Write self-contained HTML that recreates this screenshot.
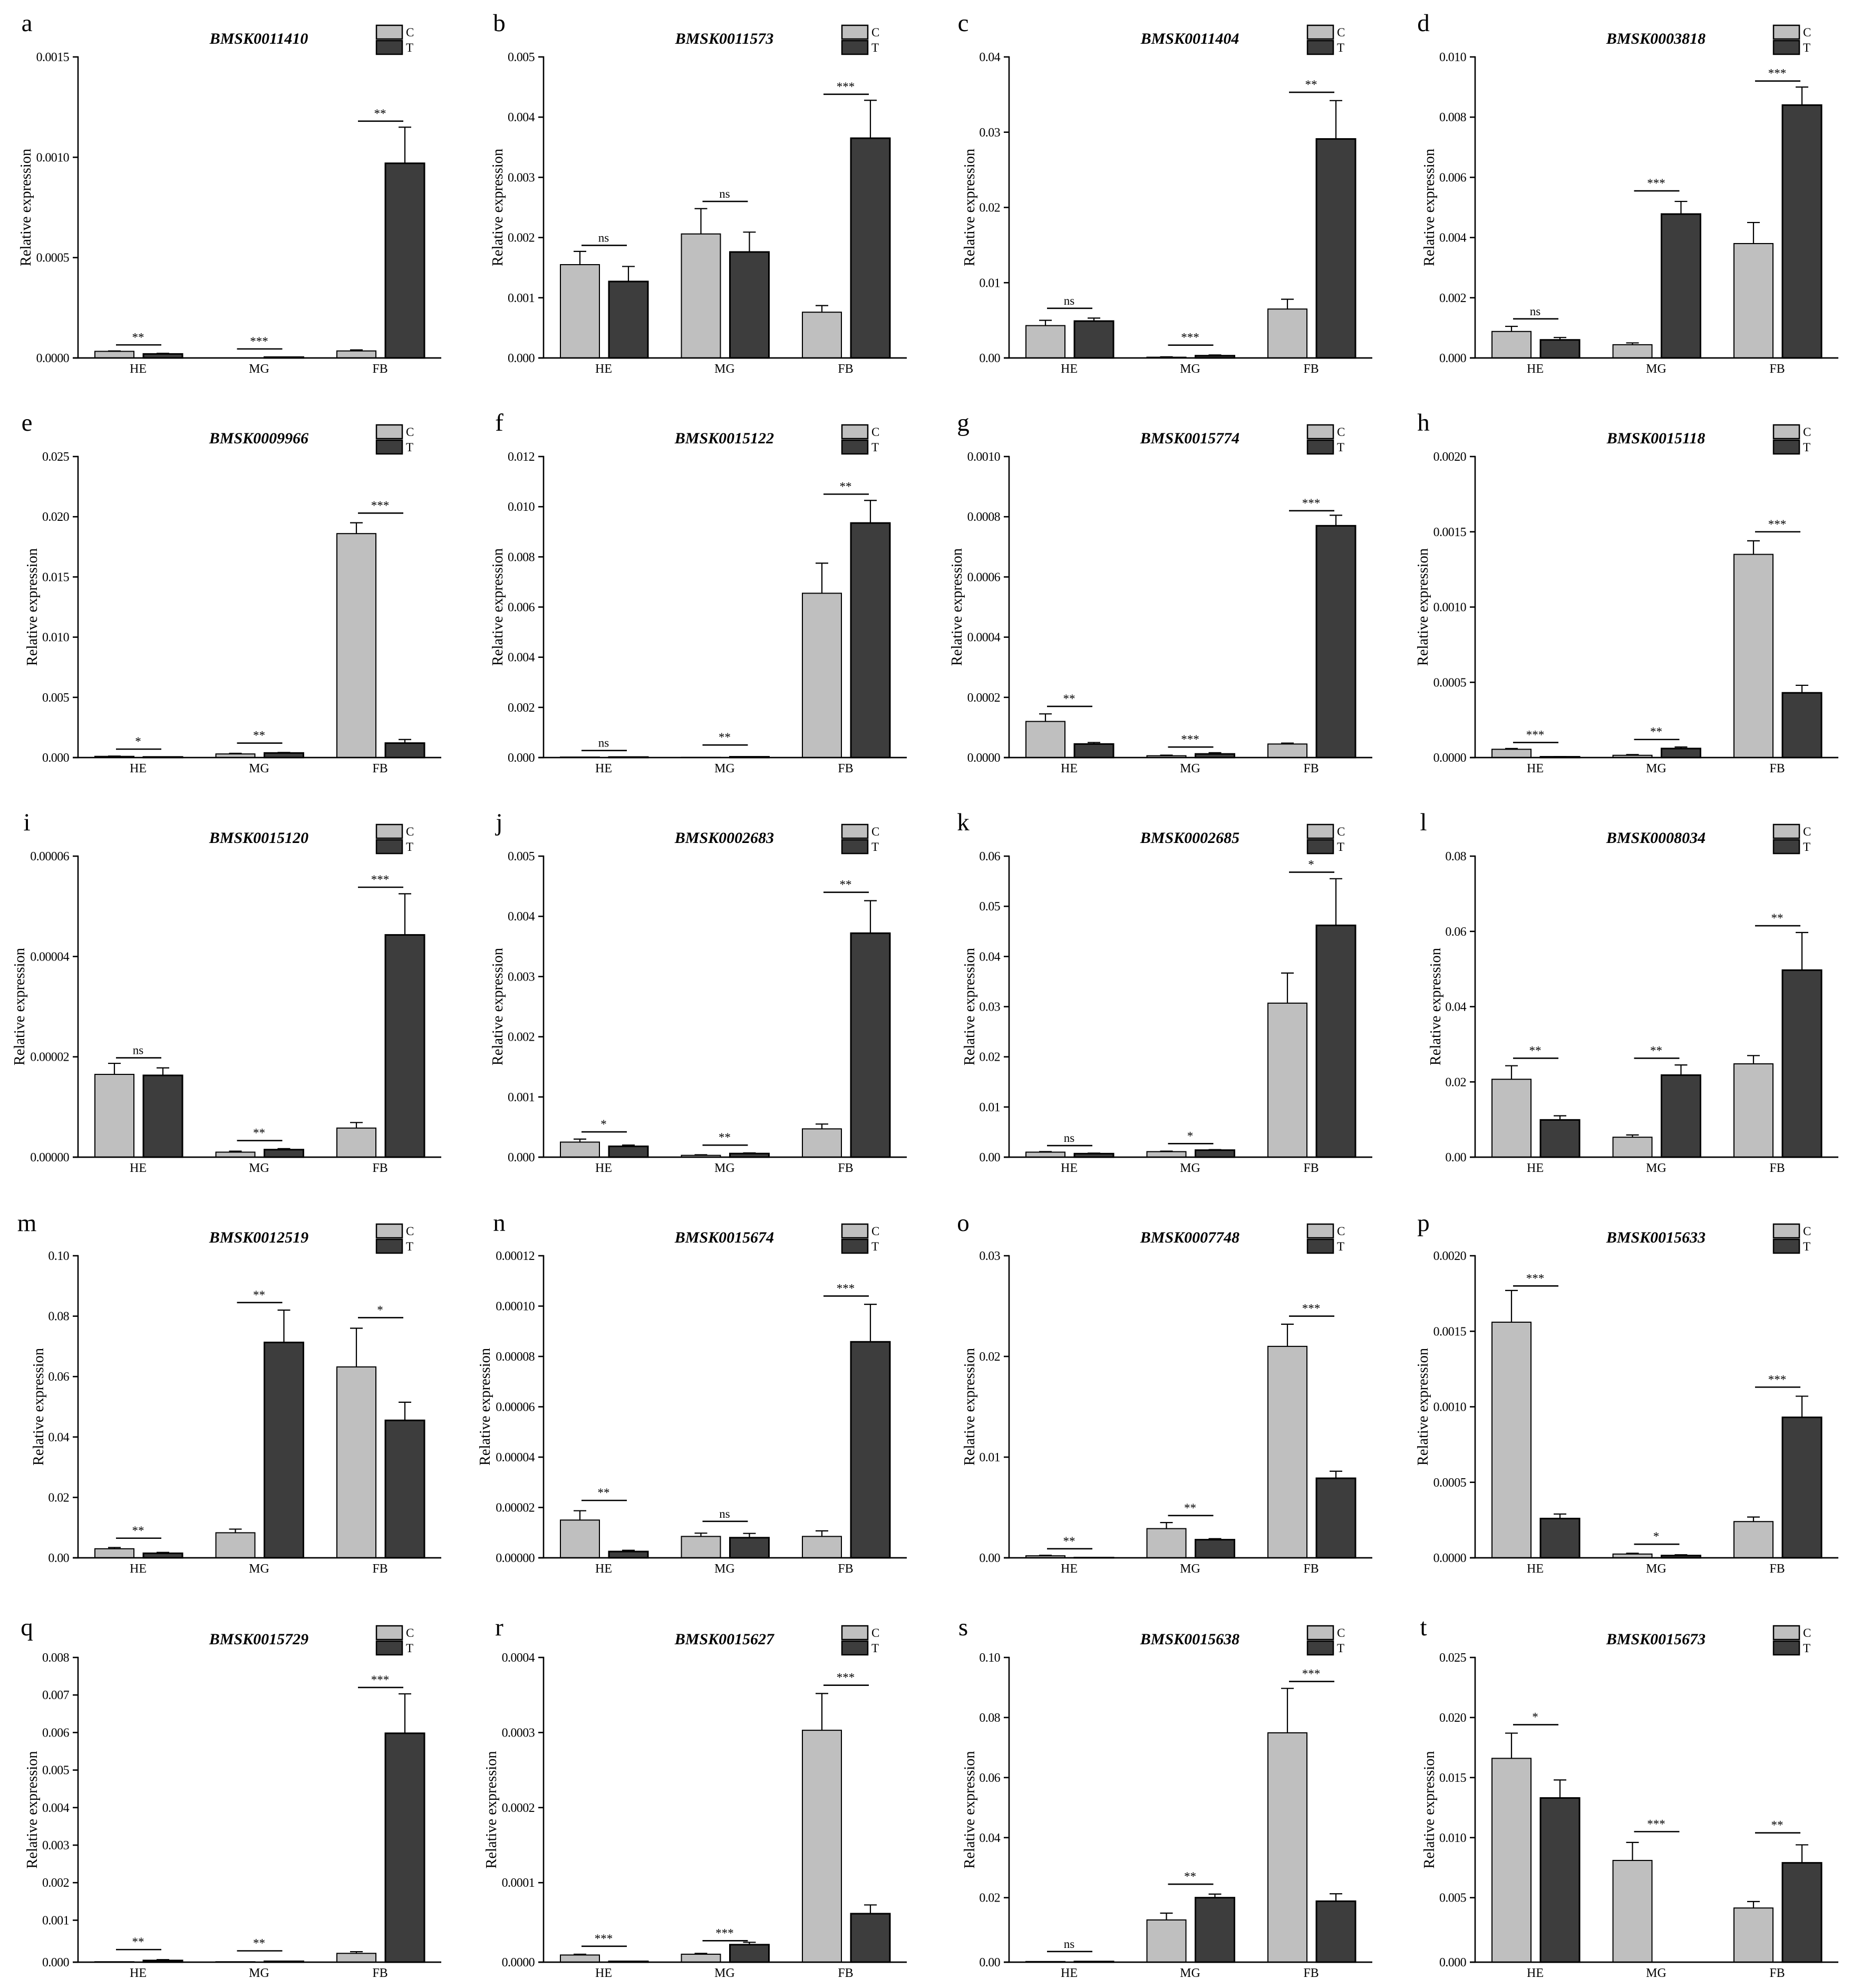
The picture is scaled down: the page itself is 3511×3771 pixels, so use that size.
<!DOCTYPE html>
<html>
<head>
<meta charset="utf-8">
<title>Relative expression of BMSK genes</title>
<style>
html,body{margin:0;padding:0;background:#fff;}
svg{display:block;position:absolute;left:0;top:0;}
text{font-family:"Liberation Serif",serif;fill:#000;}
</style>
</head>
<body>
<svg id="figure" xmlns="http://www.w3.org/2000/svg" width="3511" height="3771" viewBox="0 0 3511 3771"></svg>
<script>
const panelLetters = ["a","b","c","d","e","f","g","h","i","j","k","l","m","n","o","p","q","r","s","t"];
const geneNames = ["BMSK0011410","BMSK0011573","BMSK0011404","BMSK0003818","BMSK0009966","BMSK0015122","BMSK0015774","BMSK0015118","BMSK0015120","BMSK0002683","BMSK0002685","BMSK0008034","BMSK0012519","BMSK0015674","BMSK0007748","BMSK0015633","BMSK0015729","BMSK0015627","BMSK0015638","BMSK0015673"];
const categories = ["HE","MG","FB"];
const tickLabels = [
["0.0000","0.0005","0.0010","0.0015"],
["0.000","0.001","0.002","0.003","0.004","0.005"],
["0.00","0.01","0.02","0.03","0.04"],
["0.000","0.002","0.004","0.006","0.008","0.010"],
["0.000","0.005","0.010","0.015","0.020","0.025"],
["0.000","0.002","0.004","0.006","0.008","0.010","0.012"],
["0.0000","0.0002","0.0004","0.0006","0.0008","0.0010"],
["0.0000","0.0005","0.0010","0.0015","0.0020"],
["0.00000","0.00002","0.00004","0.00006"],
["0.000","0.001","0.002","0.003","0.004","0.005"],
["0.00","0.01","0.02","0.03","0.04","0.05","0.06"],
["0.00","0.02","0.04","0.06","0.08"],
["0.00","0.02","0.04","0.06","0.08","0.10"],
["0.00000","0.00002","0.00004","0.00006","0.00008","0.00010","0.00012"],
["0.00","0.01","0.02","0.03"],
["0.0000","0.0005","0.0010","0.0015","0.0020"],
["0.000","0.001","0.002","0.003","0.004","0.005","0.006","0.007","0.008"],
["0.0000","0.0001","0.0002","0.0003","0.0004"],
["0.00","0.02","0.04","0.06","0.08","0.10"],
["0.000","0.005","0.010","0.015","0.020","0.025"]
];
const controlMeans = [
[0.000033,0,0.000035],[0.00155,0.00206,0.00076],[0.0043,0.0001,0.0065],[0.00088,0.00044,0.0038],
[0.0001,0.0003,0.0186],[0.00002,0.00001,0.00655],[0.00012,0.000006,0.000045],[0.000055,0.000015,0.00135],
[0.0000165,0.000001,0.0000058],[0.00025,0.00003,0.00047],[0.001,0.0011,0.0307],[0.0207,0.0053,0.0248],
[0.003,0.0083,0.0632],[0.000015,0.0000085,0.0000085],[0.0002,0.0029,0.021],[0.00156,0.000025,0.00024],
[0.00001,0.00001,0.00021],[0.000009,0.00001,0.000303],[0.0002,0.0131,0.0749],[0.0166,0.0081,0.0042]
];
const treatedMeans = [
[0.00002,0.000004,0.00097],[0.00127,0.00176,0.00365],[0.0049,0.0003,0.0291],[0.0006,0.00478,0.0084],
[0.00005,0.00038,0.0012],[0.00002,0.00003,0.00935],[0.000045,0.000012,0.00077],[0.000005,0.00006,0.00043],
[0.0000163,0.0000015,0.0000443],[0.00018,0.00006,0.00372],[0.0007,0.0014,0.0462],[0.0099,0.0218,0.0497],
[0.0015,0.0713,0.0455],[0.0000025,0.000008,0.0000858],[0.00002,0.0018,0.0079],[0.00026,0.000015,0.00093],
[0.00004,0.00002,0.00598],[0.000001,0.000022,0.000061],[0.0002,0.02,0.0189],[0.0133,0,0.0079]
];
const controlErrorTops = [
[0.000035,0,0.00004],[0.00177,0.00248,0.00087],[0.005,0.00015,0.0078],[0.00105,0.0005,0.0045],
[0.00012,0.00035,0.0195],[0.00002,0.00001,0.00775],[0.000145,0.000008,0.000048],[0.00006,0.00002,0.00144],
[0.0000187,0.0000012,0.0000069],[0.0003,0.00004,0.00055],[0.0011,0.0012,0.0367],[0.0243,0.0059,0.027],
[0.0034,0.0095,0.076],[0.0000187,0.0000098,0.0000107],[0.00025,0.0035,0.0232],[0.00177,0.00003,0.00027],
[0.00001,0.00001,0.00025],[0.00001,0.000011,0.000352],[0.0002,0.0152,0.0897],[0.0187,0.0096,0.0047]
];
const treatedErrorTops = [
[0.000023,0.000005,0.00115],[0.00152,0.00209,0.00428],[0.0053,0.0004,0.0342],[0.00068,0.0052,0.009],
[0.00005,0.00042,0.0015],[0.00002,0.00003,0.01025],[0.00005,0.000016,0.000805],[0.000006,0.00007,0.00048],
[0.0000178,0.0000017,0.0000525],[0.0002,0.00007,0.00426],[0.0008,0.0015,0.0555],[0.011,0.0245,0.0597],
[0.0018,0.082,0.0515],[0.000003,0.0000097,0.0001007],[0.00002,0.0019,0.0086],[0.00029,0.00002,0.00107],
[0.00006,0.00002,0.00703],[0.000001,0.000025,0.000072],[0.0002,0.0212,0.0213],[0.0148,0,0.0094]
];
const significanceLabels = [
["**","***","**"],["ns","ns","***"],["ns","***","**"],["ns","***","***"],
["*","**","***"],["ns","**","**"],["**","***","***"],["***","**","***"],
["ns","**","***"],["*","**","**"],["ns","*","*"],["**","**","**"],
["**","**","*"],["**","ns","***"],["**","**","***"],["***","*","***"],
["**","**","***"],["***","***","***"],["ns","**","***"],["*","***","**"]
];
const significanceLevels = [
[0.000065,0.000045,0.00118],[0.00187,0.0026,0.00438],[0.0066,0.0017,0.0353],[0.0013,0.00555,0.0092],
[0.0007,0.0012,0.0203],[0.00028,0.0005,0.0105],[0.00017,0.000035,0.00082],[0.0001,0.00012,0.0015],
[0.0000198,0.0000033,0.0000538],[0.00042,0.0002,0.0044],[0.0023,0.0027,0.0568],[0.0263,0.0263,0.0615],
[0.0065,0.0845,0.0795],[0.0000228,0.0000145,0.000104],[0.0009,0.0042,0.024],[0.0018,0.00009,0.00113],
[0.0003,0.00027,0.0072],[0.00002,0.000027,0.000363],[0.0033,0.0245,0.092],[0.0194,0.0105,0.0104]
];

/* layout only */
const colAxisX = [148,1031,1914,2798];
const colLetterX = [51,947,1827,2700];
const rowBaseY = [679,1437,2195,2955,3722];
const rowPlotH = [571,571,571,573,578];
/* the bottom row of the source figure has a stretched first tick interval */
const rowZeroStretch = [0,0,0,0,8.4];
const C_FILL = "#bfbfbf", T_FILL = "#3d3d3d";
const NS = "http://www.w3.org/2000/svg";
const svg = document.getElementById("figure");

function el(parent, tag, attrs){
  const e = document.createElementNS(NS, tag);
  for (const k in attrs) e.setAttribute(k, attrs[k]);
  parent.appendChild(e);
  return e;
}
function txt(parent, str, attrs){
  const e = el(parent, "text", attrs);
  e.textContent = str;
  return e;
}

panelLetters.forEach(function(letter, p){
  const col = p % 4, row = Math.floor(p / 4);
  const ax = colAxisX[col], base = rowBaseY[row], h = rowPlotH[row];
  const top = base - h;
  const ticks = tickLabels[p];
  const yMax = parseFloat(ticks[ticks.length - 1]);
  const firstTick = parseFloat(ticks[1]);
  const gap = rowZeroStretch[row];
  const y = function(v){
    const linear = function(u){ return base - gap - (u / yMax) * (h - gap); };
    if (v <= 0) return base;
    if (v >= firstTick) return linear(v);
    return base - (v / firstTick) * (base - linear(firstTick));
  };
  const groupX = function(i){ return ax + 115 + 229.5 * i; };

  const g = el(svg, "g", {});
  
  

  const lt = txt(g, letter, {x: colLetterX[col], y: base - 620, "font-size": 47, "text-anchor": "middle"});
  
  

  const title = txt(g, geneNames[p], {x: ax + 343, y: top - 25, "font-size": 30, "font-weight": "bold", "font-style": "italic", "text-anchor": "middle"});
  
  

  const swC = el(g, "rect", {x: ax + 566, y: top - 60, width: 49, height: 26, fill: C_FILL, stroke: "#000", "stroke-width": 2.5});
  
  
  const swT = el(g, "rect", {x: ax + 566, y: top - 31, width: 49, height: 26, fill: T_FILL, stroke: "#000", "stroke-width": 2.5});
  
  
  const lgC = txt(g, "C", {x: ax + 622, y: top - 39, "font-size": 23});
  
  
  const lgT = txt(g, "T", {x: ax + 622, y: top - 10, "font-size": 23});
  
  

  const ylabX = ax - (12 * ticks[0].length + 27) + 9;
  const yl = txt(g, "Relative expression", {x: ylabX, y: base - h / 2, "font-size": 28.4, "text-anchor": "middle", transform: "rotate(-90 " + ylabX + " " + (base - h / 2) + ")"});
  
  

  categories.forEach(function(cat, i){
    const cx = groupX(i);
    [[controlMeans, controlErrorTops, C_FILL, -83, "c", 2], [treatedMeans, treatedErrorTops, T_FILL, 9, "t", 3]].forEach(function(s){
      const mean = s[0][p][i], errTop = s[1][p][i];
      const x0 = cx + s[3];
      const bar = el(g, "rect", {x: x0, y: y(mean), width: 74, height: base - y(mean), fill: s[2], stroke: "#000", "stroke-width": s[5]});
      
      
      if (mean <= 0) bar.setAttribute("visibility", "hidden");
      if (errTop > mean) {
        const mid = x0 + 37;
        const e = el(g, "path", {d: "M" + mid + " " + y(mean) + "V" + y(errTop) + "M" + (mid - 12) + " " + y(errTop) + "H" + (mid + 12), stroke: "#000", "stroke-width": 2.2, fill: "none"});
        
        
      }
    });
    const sy = y(significanceLevels[p][i]);
    const sl = el(g, "line", {x1: cx - 43, x2: cx + 43, y1: sy, y2: sy, stroke: "#000", "stroke-width": 2.6});
    
    
    const st = txt(g, significanceLabels[p][i], {x: cx - 1, y: sy - 7, "font-size": 23, "text-anchor": "middle"});
    
    

    const cl = txt(g, cat, {x: cx - 1, y: base + 28, "font-size": 24, "text-anchor": "middle"});
    
    
  });

  ticks.forEach(function(label){
    const v = parseFloat(label);
    const tk = el(g, "line", {x1: ax - 10, x2: ax, y1: y(v), y2: y(v), stroke: "#000", "stroke-width": 2.6});
    
    
    const tl = txt(g, label, {x: ax - 17, y: y(v) + 8, "font-size": 24, "text-anchor": "end", "letter-spacing": "-0.6"});
    
    
  });

  const ya = el(g, "line", {x1: ax, x2: ax, y1: base - h - 1.3, y2: base + 1.3, stroke: "#000", "stroke-width": 2.6});
  
  
  const xa = el(g, "line", {x1: ax - 10, x2: ax + 689, y1: base, y2: base, stroke: "#000", "stroke-width": 2.8});
  
  
});
</script>
</body>
</html>
